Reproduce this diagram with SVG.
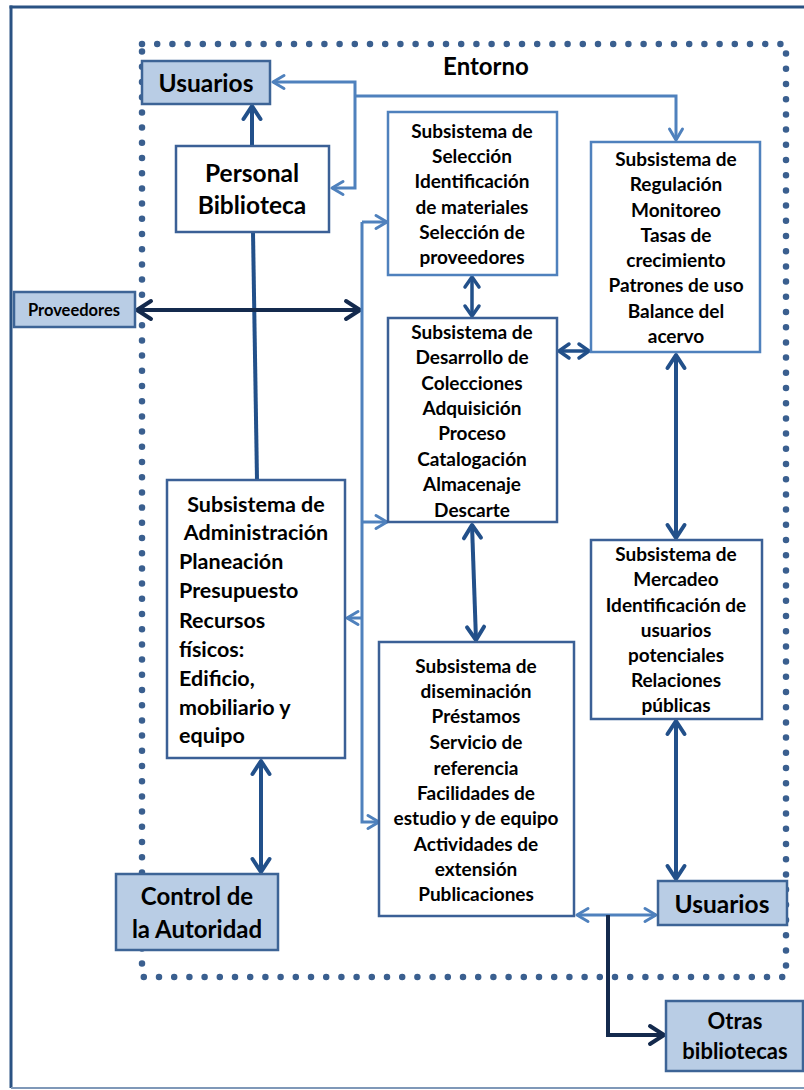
<svg xmlns="http://www.w3.org/2000/svg" width="804" height="1090" viewBox="0 0 804 1090">
  <style>
    text { font-family: Lato, "Liberation Sans", sans-serif; font-weight: bold; fill: #000; text-anchor: middle; }
    .box { fill: #fff; stroke: #3b6096; stroke-width: 2.5; }
    .box-light { fill: #fff; stroke: #4f81bd; stroke-width: 2.5; }
    .actor { fill: #b9cde5; stroke: #3d6496; stroke-width: 2.5; }
    .s18 { font-size: 19px; }
    .s21 { font-size: 21.5px; }
    .left { text-anchor: start; }
    .light { fill: none; stroke: #4f81bd; stroke-width: 3; }
    .dark { fill: none; stroke: #22508a; stroke-width: 4; }
    .dark3 { fill: none; stroke: #22508a; stroke-width: 3.5; }
    .navy { fill: none; stroke: #142a4d; stroke-width: 4; }
  </style>
  <defs>
    <marker id="ah-light" markerUnits="userSpaceOnUse" viewBox="-16 -10 20 20" refX="0" refY="0" markerWidth="20" markerHeight="20" orient="auto-start-reverse">
      <path d="M-11,-6.5 L0,0 L-11,6.5" fill="none" stroke="#4f81bd" stroke-width="3" stroke-linecap="round" stroke-linejoin="round"/>
    </marker>
    <marker id="ah-dark" markerUnits="userSpaceOnUse" viewBox="-18 -12 22 24" refX="0" refY="0" markerWidth="22" markerHeight="24" orient="auto-start-reverse">
      <path d="M-13,-8.5 L0,0 L-13,8.5" fill="none" stroke="#22508a" stroke-width="4" stroke-linecap="round" stroke-linejoin="round"/>
    </marker>
    <marker id="ah-dark-s" markerUnits="userSpaceOnUse" viewBox="-16 -10 20 20" refX="0" refY="0" markerWidth="20" markerHeight="20" orient="auto-start-reverse">
      <path d="M-10,-7 L0,0 L-10,7" fill="none" stroke="#22508a" stroke-width="3.5" stroke-linecap="round" stroke-linejoin="round"/>
    </marker>
    <marker id="ah-navy" markerUnits="userSpaceOnUse" viewBox="-20 -12 24 24" refX="0" refY="0" markerWidth="24" markerHeight="24" orient="auto-start-reverse">
      <path d="M-14,-9 L0,0 L-14,9" fill="none" stroke="#142a4d" stroke-width="4" stroke-linecap="round" stroke-linejoin="round"/>
    </marker>
  </defs>

  <!-- outer frame -->
  <g id="frame">
    <line x1="9.5" y1="7" x2="804" y2="7" stroke="#2a5283" stroke-width="3"/>
    <line x1="11" y1="5.5" x2="11" y2="1088" stroke="#2a5283" stroke-width="3"/>
    <line x1="11" y1="1088" x2="804" y2="1088" stroke="#7f98b8" stroke-width="2"/>
  </g>

  <!-- environment boundary -->
  <g id="entorno">
    <rect x="142" y="44" width="644" height="933" fill="none" stroke="#3a5f8f" stroke-width="6.5" stroke-linecap="round" stroke-dasharray="0 15.2"/>
    <text x="486" y="75" font-size="24px">Entorno</text>
  </g>

  <!-- connectors -->
  <g id="connectors">
    <path class="light" d="M273,82 H355 V188 H332" marker-start="url(#ah-light)" marker-end="url(#ah-light)"/>
    <path class="light" d="M355,96 H676 V140" marker-end="url(#ah-light)"/>
    <path class="dark" d="M252,146 V106" marker-end="url(#ah-dark)"/>
    <path class="dark" d="M253,232 L257,480"/>
    <path class="navy" d="M137,310 H360" marker-start="url(#ah-navy)" marker-end="url(#ah-navy)"/>
    <path class="light" d="M362,222 V822 H379" marker-end="url(#ah-light)"/>
    <path class="light" d="M362,222 H387" marker-end="url(#ah-light)"/>
    <path class="light" d="M362,522 H387" marker-end="url(#ah-light)"/>
    <path class="light" d="M362,618 H347" marker-end="url(#ah-light)"/>
    <path class="dark3" d="M472,277 V316" marker-start="url(#ah-dark-s)" marker-end="url(#ah-dark-s)"/>
    <path class="dark3" d="M559,351 H589" marker-start="url(#ah-dark-s)" marker-end="url(#ah-dark-s)"/>
    <path class="dark" d="M472,525 L476,640" marker-start="url(#ah-dark)" marker-end="url(#ah-dark)"/>
    <path class="dark" d="M676,355 V538" marker-start="url(#ah-dark)" marker-end="url(#ah-dark)"/>
    <path class="dark" d="M676,721 V879" marker-start="url(#ah-dark)" marker-end="url(#ah-dark)"/>
    <path class="dark" d="M261,761 V872" marker-start="url(#ah-dark)" marker-end="url(#ah-dark)"/>
    <path class="light" d="M577,915 H656" marker-start="url(#ah-light)" marker-end="url(#ah-light)"/>
    <path class="navy" d="M608,915 V1035 H664" stroke-width="3.5" marker-end="url(#ah-navy)"/>
  </g>

  <!-- nodes -->
  <g id="usuarios-top">
    <rect class="actor" x="142" y="61" width="128" height="43"/>
    <text x="206" y="92" font-size="24.5px">Usuarios</text>
  </g>

  <g id="personal">
    <rect class="box" x="176" y="146" width="153" height="86"/>
    <text x="252" y="182" font-size="24.5px">Personal</text>
    <text x="252" y="214" font-size="24.5px">Biblioteca</text>
  </g>

  <g id="proveedores">
    <rect class="actor" x="14" y="292" width="121" height="35"/>
    <text x="74" y="316" font-size="16.5px">Proveedores</text>
  </g>

  <g id="seleccion" class="s18">
    <rect class="box-light" x="388" y="112" width="169" height="163"/>
    <text x="472" y="138">Subsistema de</text>
    <text x="472" y="163">Selección</text>
    <text x="472" y="188">Identificación</text>
    <text x="472" y="214">de materiales</text>
    <text x="472" y="239">Selección de</text>
    <text x="472" y="264">proveedores</text>
  </g>

  <g id="regulacion" class="s18">
    <rect class="box-light" x="591" y="142" width="169" height="210"/>
    <text x="676" y="166">Subsistema de</text>
    <text x="676" y="191">Regulación</text>
    <text x="676" y="217">Monitoreo</text>
    <text x="676" y="242">Tasas de</text>
    <text x="676" y="267">crecimiento</text>
    <text x="676" y="292">Patrones de uso</text>
    <text x="676" y="318">Balance del</text>
    <text x="676" y="343">acervo</text>
  </g>

  <g id="desarrollo" class="s18">
    <rect class="box" x="388" y="318" width="169" height="204"/>
    <text x="472" y="339">Subsistema de</text>
    <text x="472" y="364">Desarrollo de</text>
    <text x="472" y="390">Colecciones</text>
    <text x="472" y="415">Adquisición</text>
    <text x="472" y="440">Proceso</text>
    <text x="472" y="466">Catalogación</text>
    <text x="472" y="491">Almacenaje</text>
    <text x="472" y="517">Descarte</text>
  </g>

  <g id="administracion" class="s21">
    <rect class="box" x="167" y="480" width="178" height="278"/>
    <text x="256" y="512">Subsistema de</text>
    <text x="256" y="540">Administración</text>
    <text class="left" x="179" y="569">Planeación</text>
    <text class="left" x="179" y="598">Presupuesto</text>
    <text class="left" x="179" y="628">Recursos</text>
    <text class="left" x="179" y="657">físicos:</text>
    <text class="left" x="179" y="686">Edificio,</text>
    <text class="left" x="179" y="715">mobiliario y</text>
    <text class="left" x="179" y="743">equipo</text>
  </g>

  <g id="mercadeo" class="s18">
    <rect class="box" x="591" y="540" width="171" height="179"/>
    <text x="676" y="561">Subsistema de</text>
    <text x="676" y="586">Mercadeo</text>
    <text x="676" y="612">Identificación de</text>
    <text x="676" y="637">usuarios</text>
    <text x="676" y="662">potenciales</text>
    <text x="676" y="687">Relaciones</text>
    <text x="676" y="712">públicas</text>
  </g>

  <g id="diseminacion" class="s18">
    <rect class="box" x="379" y="642" width="195" height="274"/>
    <text x="476" y="673">Subsistema de</text>
    <text x="476" y="698">diseminación</text>
    <text x="476" y="723">Préstamos</text>
    <text x="476" y="749">Servicio de</text>
    <text x="476" y="775">referencia</text>
    <text x="476" y="800">Facilidades de</text>
    <text x="476" y="825">estudio y de equipo</text>
    <text x="476" y="851">Actividades de</text>
    <text x="476" y="876">extensión</text>
    <text x="476" y="901">Publicaciones</text>
  </g>

  <g id="control">
    <rect class="actor" x="116" y="874" width="162" height="76"/>
    <text x="197" y="905" font-size="24px">Control de</text>
    <text x="197" y="938" font-size="24px">la Autoridad</text>
  </g>

  <g id="usuarios-bottom">
    <rect class="actor" x="658" y="881" width="129" height="44"/>
    <text x="722" y="913" font-size="24.5px">Usuarios</text>
  </g>

  <g id="otras">
    <rect class="actor" x="666" y="1001" width="137" height="70"/>
    <text x="735" y="1029" font-size="22px">Otras</text>
    <text x="735" y="1059" font-size="22px">bibliotecas</text>
  </g>
</svg>
